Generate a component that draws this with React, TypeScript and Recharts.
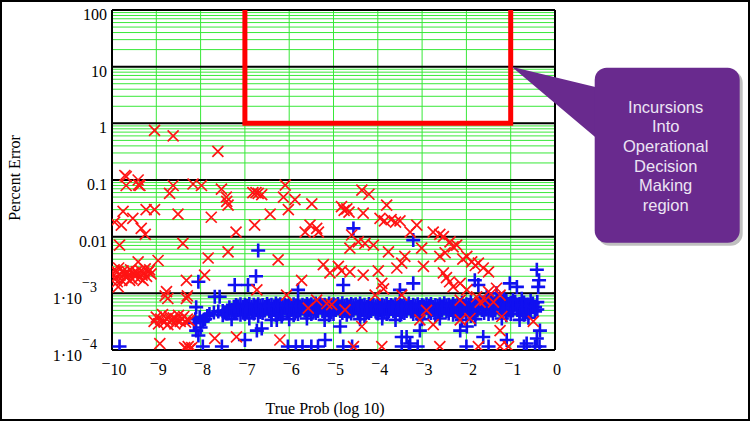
import React from 'react'
import { CartesianGrid, ReferenceDot, ReferenceLine, Scatter, ScatterChart, XAxis, YAxis } from 'recharts'

const RED = '#ff1414'
const BLUE = '#1010f0'
const GRID = '#38e838'
const PURPLE = '#692a8e'
const SERIF = '"Liberation Serif", "Times New Roman", serif'
const SANS = '"Liberation Sans", Arial, sans-serif'

// axis ticks
const X_TICKS = [-10, -9, -8, -7, -6, -5, -4, -3, -2, -1, 0]
const Y_MAJOR = [1e-4, 1e-3, 0.01, 0.1, 1, 10, 100]
const Y_LABELS = ['1·10|−4', '1·10|−3', '0.01', '0.1', '1', '10', '100']

const Y_MINOR: number[] = []
Y_MAJOR.slice(0, -1).forEach((d) => {
	for (let m = 2; m <= 9; m++) Y_MINOR.push(d * m)
})

// operational decision making region boundary
const REGION_X = [-7, -7, -1, -1]
const REGION_Y = [100, 1, 1, 100]

// red x points  [log10 true prob, percent error]
const RED_UPPER: [number, number][] = [
	[-9.04, 0.75], [-8.62, 0.6], [-7.61, 0.32],
	[-9.71, 0.12], [-9.68, 0.115], [-9.41, 0.1], [-9.68, 0.08], [-9.4, 0.082], [-9.37, 0.08],
	[-8.62, 0.08], [-8.7, 0.058], [-8.17, 0.085], [-7.98, 0.08], [-7.53, 0.069], [-7.42, 0.05],
	[-7.41, 0.042], [-7.38, 0.036], [-6.82, 0.06], [-6.75, 0.06],
	[-9.75, 0.028], [-9.94, 0.018], [-9.79, 0.016], [-9.53, 0.021], [-9.23, 0.03], [-9.04, 0.03],
	[-8.51, 0.025], [-7.76, 0.022], [-9.34, 0.014], [-9.25, 0.011], [-7.2, 0.012], [-6.78, 0.016],
	[-6.09, 0.081], [-6.7, 0.058], [-6.62, 0.055], [-6.13, 0.05], [-5.87, 0.045], [-5.49, 0.038],
	[-6.43, 0.025], [-6.02, 0.03], [-5.53, 0.016], [-5.38, 0.014],
	[-4.82, 0.034], [-4.76, 0.029], [-4.7, 0.031], [-4.65, 0.027], [-4.36, 0.066], [-4.2, 0.056],
	[-4.33, 0.026], [-3.8, 0.036], [-3.95, 0.021], [-3.85, 0.019], [-3.7, 0.02], [-3.6, 0.018],
	[-3.5, 0.019], [-3.12, 0.016], [-3.27, 0.012],
]

const RED_MID: [number, number][] = [
	[-2.75, 0.012], [-2.6, 0.011], [-2.52, 0.01], [-2.37, 0.0081], [-2.22, 0.0071], [-2.48, 0.0052],
	[-2.3, 0.0066], [-2.6, 0.0045], [-3.01, 0.0063], [-3.39, 0.0045],
	[-1.99, 0.0045], [-1.88, 0.0036], [-1.73, 0.0034], [-1.62, 0.0028], [-1.5, 0.0024], [-2.08, 0.004],
	[-1.8, 0.0031], [-2.97, 0.003], [-2.52, 0.0023], [-2.45, 0.0019], [-2.38, 0.0016], [-2.3, 0.0013],
	[-2.14, 0.0015], [-1.99, 0.00115],
	[-5.64, 0.012], [-5.34, 0.012], [-6.25, 0.0039], [-5.23, 0.0032], [-5.08, 0.0023], [-4.89, 0.003],
	[-4.82, 0.0025], [-4.63, 0.0024], [-4.33, 0.0021], [-3.99, 0.0025], [-3.57, 0.0028],
	[-5.72, 0.0017], [-6.73, 0.00115], [-3.91, 0.0015], [-3.87, 0.0012],
	[-4.59, 0.0107], [-4.63, 0.0063], [-4.44, 0.0081], [-4.29, 0.0076], [-4.1, 0.0071],
	[-3.76, 0.0054], [-3.46, 0.0034],
	[-9.83, 0.0071], [-8.4, 0.0076], [-7.38, 0.0054], [-7.83, 0.0042], [-9.41, 0.0036], [-8.96, 0.0038],
]

const RED_LOW: [number, number][] = [
	[-1.5, 0.00107], [-1.32, 0.00123], [-1.24, 0.00093], [-1.39, 0.0007], [-1.58, 0.00076],
	[-2.9, 5e-4], [-2.14, 7.6e-4], [-1.77, 8.7e-4], [-1.69, 7e-4], [-1.2, 3.9e-4], [-1.24, 2.2e-4],
	[-2.14, 3.4e-4], [-1.92, 3.6e-4], [-2.75, 2.8e-4], [-3.05, 3.4e-4], [-0.49, 3.2e-4],
	[-2.6, 1.15e-4], [-1.73, 1.15e-4], [-1.24, 1.15e-4], [-1.05, 1.15e-4],
	[-5.38, 7.6e-4], [-5.57, 5.5e-4], [-5.15, 6.6e-4], [-5.04, 6.3e-4], [-4.74, 5.1e-4],
	[-4.36, 2.6e-4], [-6.21, 1.5e-4], [-4.55, 1.15e-4], [-3.91, 1.15e-4], [-4.06, 9.3e-4],
	[-3.46, 9.3e-4], [-6.06, 9.3e-4],
	[-9.98, 0.0022], [-9.95, 0.0026], [-9.92, 0.0019], [-9.88, 0.0024], [-9.85, 0.0028], [-9.82, 0.0021],
	[-9.78, 0.0017], [-9.75, 0.0025], [-9.72, 0.0022], [-9.68, 0.0019], [-9.65, 0.0024], [-9.62, 0.0021],
	[-9.58, 0.0026], [-9.55, 0.0018], [-9.52, 0.0023], [-9.48, 0.002], [-9.45, 0.0024], [-9.42, 0.0022],
	[-9.38, 0.0019], [-9.35, 0.0025], [-9.32, 0.0021], [-9.28, 0.0023], [-9.25, 0.0027], [-9.22, 0.002],
	[-9.18, 0.0024], [-9.15, 0.0026], [-9.12, 0.0022], [-9.88, 0.0016], [-9.6, 0.0017], [-9.3, 0.0017],
	[-9.86, 0.0013], [-8.32, 0.0017], [-7.91, 0.0021],
	[-8.77, 0.00107], [-8.74, 0.00081], [-8.32, 0.00081], [-8.8, 0.0009], [-8.3, 0.0009],
	[-9.05, 3.2e-4], [-9.0, 3.8e-4], [-8.95, 2.9e-4], [-8.9, 3.5e-4], [-8.86, 4.2e-4], [-8.82, 3.1e-4],
	[-8.78, 3.6e-4], [-8.74, 2.8e-4], [-8.7, 3.9e-4], [-8.66, 3.3e-4], [-8.62, 3.7e-4], [-8.58, 2.9e-4],
	[-8.54, 3.4e-4], [-8.5, 4.1e-4], [-8.46, 3.2e-4], [-8.42, 3.6e-4], [-8.38, 3.9e-4], [-8.34, 3.1e-4],
	[-8.3, 3.5e-4], [-8.26, 3.3e-4],
	[-8.92, 1.3e-4], [-8.36, 1.1e-4], [-8.32, 1.05e-4], [-8.28, 1.15e-4], [-8.24, 1.05e-4], [-8.2, 1.1e-4],
	[-7.68, 1.6e-4], [-7.19, 1.7e-4],
]

// blue + points: dense band, upper rows
const BLUE_BAND_TOP: [number, number][] = [
	[-7.2, 6.2e-4], [-7.1, 6.4e-4], [-7.0, 6.3e-4], [-6.9, 6.5e-4], [-6.8, 6.3e-4], [-6.7, 6.4e-4],
	[-6.6, 6.2e-4], [-6.5, 6.5e-4], [-6.4, 6.3e-4], [-6.3, 6.6e-4], [-6.2, 6.4e-4], [-6.1, 6.3e-4],
	[-6.0, 6.5e-4], [-5.9, 6.4e-4], [-5.8, 6.6e-4], [-5.7, 6.3e-4], [-5.6, 6.5e-4], [-5.5, 6.4e-4],
	[-5.4, 6.6e-4], [-5.3, 6.5e-4], [-5.2, 6.3e-4], [-5.1, 6.6e-4], [-5.0, 6.4e-4], [-4.9, 6.5e-4],
	[-4.8, 6.7e-4], [-4.7, 6.3e-4], [-4.6, 6.5e-4], [-4.5, 6.4e-4], [-4.4, 6.6e-4], [-4.3, 6.3e-4],
	[-4.2, 6.5e-4], [-4.1, 6.2e-4], [-4.0, 6.4e-4], [-3.9, 6.3e-4], [-3.8, 6.5e-4], [-3.7, 6.2e-4],
	[-3.6, 6.4e-4], [-3.5, 6.2e-4], [-3.4, 6.4e-4], [-3.3, 6.6e-4], [-3.2, 6.3e-4], [-3.1, 6.4e-4],
	[-3.0, 6.2e-4], [-2.9, 6.4e-4], [-2.8, 6.5e-4], [-2.7, 6.2e-4], [-2.6, 6.4e-4], [-2.5, 6.7e-4],
	[-2.4, 6.3e-4], [-2.3, 6.5e-4], [-2.2, 6.4e-4], [-2.1, 6.8e-4], [-2.0, 6.4e-4], [-1.9, 7.0e-4],
	[-1.8, 6.5e-4], [-1.7, 7.2e-4], [-1.6, 6.7e-4], [-1.5, 7.5e-4], [-1.4, 6.9e-4], [-1.3, 7.8e-4],
	[-1.2, 7.0e-4], [-1.1, 7.4e-4], [-1.0, 6.8e-4], [-0.9, 7.1e-4], [-0.8, 6.5e-4], [-0.7, 6.9e-4],
	[-0.6, 6.3e-4], [-0.5, 6.6e-4],
	[-7.35, 5.7e-4], [-7.25, 5.8e-4], [-7.15, 5.9e-4], [-7.05, 5.8e-4], [-6.95, 6.0e-4], [-6.85, 5.8e-4],
	[-6.75, 5.9e-4], [-6.65, 6.0e-4], [-6.55, 5.8e-4], [-6.45, 6.0e-4], [-6.35, 5.9e-4], [-6.25, 6.1e-4],
	[-6.15, 5.9e-4], [-6.05, 6.0e-4], [-5.95, 5.9e-4], [-5.85, 6.1e-4], [-5.75, 5.9e-4], [-5.65, 6.0e-4],
	[-5.55, 6.1e-4], [-5.45, 5.9e-4], [-5.35, 6.0e-4], [-5.25, 6.1e-4], [-5.15, 5.9e-4], [-5.05, 6.0e-4],
	[-4.95, 6.1e-4], [-4.85, 5.9e-4], [-4.75, 6.0e-4], [-4.65, 5.9e-4], [-4.55, 6.1e-4], [-4.45, 5.9e-4],
	[-4.35, 6.0e-4], [-4.25, 5.8e-4], [-4.15, 6.0e-4], [-4.05, 5.9e-4], [-3.95, 5.8e-4], [-3.85, 6.0e-4],
	[-3.75, 5.8e-4], [-3.65, 5.9e-4], [-3.55, 5.8e-4], [-3.45, 6.0e-4], [-3.35, 5.9e-4], [-3.25, 5.8e-4],
	[-3.15, 6.0e-4], [-3.05, 5.8e-4], [-2.95, 5.9e-4], [-2.85, 6.0e-4], [-2.75, 5.8e-4], [-2.65, 6.0e-4],
	[-2.55, 5.9e-4], [-2.45, 6.1e-4], [-2.35, 5.9e-4], [-2.25, 6.0e-4], [-2.15, 6.2e-4], [-2.05, 6.0e-4],
	[-1.95, 6.3e-4], [-1.85, 6.1e-4], [-1.75, 6.5e-4], [-1.65, 6.2e-4], [-1.55, 6.6e-4], [-1.45, 6.3e-4],
	[-1.35, 6.7e-4], [-1.25, 6.4e-4], [-1.15, 6.5e-4], [-1.05, 6.2e-4], [-0.95, 6.3e-4], [-0.85, 6.0e-4],
	[-0.75, 6.2e-4], [-0.65, 5.9e-4], [-0.55, 6.0e-4], [-0.45, 5.7e-4],
	[-1.45, 7.8e-4], [-1.15, 8.2e-4], [-0.95, 7.6e-4], [-0.75, 8.0e-4], [-0.55, 7.4e-4], [-0.4, 7.0e-4],
]

// blue + points: dense band, middle row and start of the band
const BLUE_BAND_MID: [number, number][] = [
	[-8.15, 3.0e-4], [-8.1, 2.2e-4], [-8.05, 1.8e-4], [-8.0, 2.5e-4], [-7.95, 3.2e-4], [-7.9, 3.5e-4],
	[-8.12, 3.5e-4], [-8.02, 3.8e-4], [-7.85, 4.0e-4], [-7.8, 4.3e-4], [-7.7, 4.6e-4], [-7.6, 4.8e-4],
	[-7.5, 4.9e-4], [-7.4, 5.0e-4], [-7.3, 5.1e-4], [-7.2, 5.0e-4], [-7.1, 5.2e-4], [-7.0, 5.1e-4],
	[-6.9, 5.3e-4], [-6.8, 5.2e-4], [-6.7, 5.4e-4], [-6.6, 5.2e-4], [-6.5, 5.4e-4], [-6.4, 5.3e-4],
	[-6.3, 5.5e-4], [-6.2, 5.3e-4], [-6.1, 5.5e-4], [-6.0, 5.4e-4], [-5.9, 5.6e-4], [-5.8, 5.4e-4],
	[-5.7, 5.6e-4], [-5.6, 5.4e-4], [-5.5, 5.6e-4], [-5.4, 5.5e-4], [-5.3, 5.7e-4], [-5.2, 5.5e-4],
	[-5.1, 5.6e-4], [-5.0, 5.4e-4], [-4.9, 5.6e-4], [-4.8, 5.7e-4], [-4.7, 5.4e-4], [-4.6, 5.6e-4],
	[-4.5, 5.5e-4], [-4.4, 5.7e-4], [-4.3, 5.4e-4], [-4.2, 5.6e-4], [-4.1, 5.3e-4], [-4.0, 5.5e-4],
	[-3.9, 5.4e-4], [-3.8, 5.6e-4], [-3.7, 5.3e-4], [-3.6, 5.5e-4], [-3.5, 5.3e-4], [-3.4, 5.5e-4],
	[-3.3, 5.7e-4], [-3.2, 5.3e-4], [-3.1, 5.5e-4], [-3.0, 5.3e-4], [-2.9, 5.5e-4], [-2.8, 5.6e-4],
	[-2.7, 5.3e-4], [-2.6, 5.5e-4], [-2.5, 5.8e-4], [-2.4, 5.4e-4], [-2.3, 5.6e-4], [-2.2, 5.5e-4],
	[-2.1, 5.9e-4], [-2.0, 5.5e-4], [-1.9, 6.1e-4], [-1.8, 5.6e-4], [-1.7, 6.4e-4], [-1.6, 5.8e-4],
	[-1.5, 6.8e-4], [-1.4, 6.0e-4], [-1.3, 7.1e-4], [-1.2, 6.2e-4], [-1.1, 6.6e-4], [-1.0, 6.0e-4],
	[-0.9, 6.4e-4], [-0.8, 5.7e-4], [-0.7, 6.1e-4], [-0.6, 5.5e-4], [-0.5, 5.8e-4], [-0.4, 5.2e-4],
]

// blue + points: dense band, lower rows
const BLUE_BAND_LOW: [number, number][] = [
	[-7.45, 4.6e-4], [-7.25, 4.7e-4], [-7.05, 4.6e-4], [-6.85, 4.8e-4], [-6.65, 4.7e-4], [-6.45, 4.9e-4],
	[-6.25, 4.7e-4], [-6.05, 4.9e-4], [-5.85, 4.8e-4], [-5.65, 5.0e-4], [-5.45, 4.8e-4], [-5.25, 4.9e-4],
	[-5.05, 4.7e-4], [-4.85, 4.9e-4], [-4.65, 4.8e-4], [-4.45, 4.9e-4], [-4.25, 4.7e-4], [-4.05, 4.8e-4],
	[-3.85, 4.7e-4], [-3.65, 4.9e-4], [-3.45, 4.7e-4], [-3.25, 4.8e-4], [-3.05, 4.6e-4], [-2.85, 4.8e-4],
	[-2.65, 4.7e-4], [-2.45, 4.9e-4], [-2.25, 4.8e-4], [-2.05, 5.0e-4], [-1.85, 4.9e-4], [-1.65, 5.1e-4],
	[-1.45, 5.0e-4], [-1.25, 5.2e-4], [-1.05, 5.0e-4], [-0.85, 5.1e-4], [-0.65, 4.9e-4], [-0.45, 4.8e-4],
	[-7.35, 4.9e-4], [-7.15, 5.0e-4], [-6.95, 4.9e-4], [-6.75, 5.1e-4], [-6.55, 5.0e-4], [-6.35, 5.1e-4],
	[-6.15, 4.9e-4], [-5.95, 5.1e-4], [-5.75, 5.0e-4], [-5.55, 5.1e-4], [-5.35, 4.9e-4], [-5.15, 5.0e-4],
	[-4.95, 5.1e-4], [-4.75, 4.9e-4], [-4.55, 5.0e-4], [-4.35, 5.1e-4], [-4.15, 4.9e-4], [-3.95, 5.0e-4],
	[-3.75, 4.9e-4], [-3.55, 5.1e-4], [-3.35, 4.9e-4], [-3.15, 5.0e-4], [-2.95, 4.9e-4], [-2.75, 5.1e-4],
	[-2.55, 5.0e-4], [-2.35, 5.1e-4], [-2.15, 4.9e-4], [-1.95, 5.1e-4], [-1.75, 5.0e-4], [-1.55, 5.2e-4],
	[-1.35, 5.1e-4], [-1.15, 5.2e-4], [-0.95, 5.0e-4], [-0.75, 5.1e-4], [-0.55, 4.9e-4],
	[-7.4, 4.4e-4], [-7.2, 4.5e-4], [-7.0, 4.3e-4], [-6.8, 4.4e-4], [-6.6, 4.5e-4], [-6.4, 4.3e-4],
	[-6.2, 4.4e-4], [-6.0, 4.5e-4], [-5.8, 4.3e-4], [-5.6, 4.4e-4], [-5.4, 4.5e-4], [-5.2, 4.4e-4],
	[-5.0, 4.3e-4], [-4.8, 4.5e-4], [-4.6, 4.4e-4], [-4.4, 4.3e-4], [-4.2, 4.5e-4], [-4.0, 4.4e-4],
	[-3.8, 4.3e-4], [-3.6, 4.4e-4], [-3.4, 4.5e-4], [-3.2, 4.3e-4], [-3.0, 4.4e-4], [-2.8, 4.5e-4],
	[-2.6, 4.3e-4], [-2.4, 4.4e-4], [-2.2, 4.5e-4], [-2.0, 4.4e-4], [-1.8, 4.3e-4], [-1.6, 4.5e-4],
	[-1.4, 4.4e-4], [-1.2, 4.5e-4], [-1.0, 4.3e-4], [-0.8, 4.4e-4], [-0.6, 4.5e-4],
	[-7.5, 4.1e-4], [-7.1, 4.2e-4], [-6.7, 4.0e-4], [-6.3, 4.2e-4], [-5.9, 4.1e-4], [-5.5, 4.3e-4],
	[-5.1, 4.1e-4], [-4.7, 4.2e-4], [-4.3, 4.0e-4], [-3.9, 4.2e-4], [-3.5, 4.1e-4], [-3.1, 4.3e-4],
	[-2.7, 4.1e-4], [-2.3, 4.2e-4], [-1.9, 4.0e-4], [-1.5, 4.3e-4], [-1.1, 4.1e-4], [-0.7, 4.2e-4],
	[-7.3, 3.5e-4], [-6.9, 3.6e-4], [-6.4, 3.4e-4], [-6.0, 3.5e-4], [-5.6, 3.6e-4], [-5.2, 3.4e-4],
	[-4.4, 3.5e-4], [-3.9, 3.6e-4], [-3.6, 3.4e-4], [-3.0, 3.5e-4], [-2.6, 3.6e-4], [-2.1, 3.4e-4],
	[-1.8, 3.5e-4], [-1.2, 3.6e-4], [-0.8, 3.4e-4], [-0.6, 3.7e-4],
]

const BLUE_SCATTER: [number, number][] = [
	[-9.83, 1.15e-4], [-8.05, 0.0016], [-7.68, 8.7e-4], [-7.57, 8.7e-4], [-8.1, 5.7e-4],
	[-7.23, 0.0014], [-6.93, 0.0014], [-6.75, 0.002], [-6.7, 0.0057], [-5.8, 0.00115], [-4.78, 0.0014],
	[-6.62, 2.4e-4], [-6.73, 2.2e-4], [-4.85, 2.6e-4], [-5.19, 1.5e-4], [-7.0, 1.5e-4],
	[-6.28, 3.4e-4], [-6.17, 3.9e-4],
	[-7.95, 1.15e-4], [-7.52, 1.15e-4],
	[-6.03, 1.15e-4], [-5.85, 1.15e-4], [-5.7, 1.15e-4], [-5.5, 1.15e-4], [-5.35, 1.15e-4],
	[-4.78, 1.15e-4], [-4.58, 1.15e-4], [-3.46, 1.7e-4], [-3.46, 1.15e-4], [-4.55, 0.014],
	[-3.2, 0.0087], [-3.2, 0.0015], [-3.5, 0.00115], [-1.81, 0.0017], [-1.73, 0.0014],
	[-0.41, 0.0026], [-0.36, 0.0017], [-0.38, 0.0013], [-1.02, 0.0015], [-0.86, 0.0013],
	[-1.54, 8.7e-4], [-1.32, 1e-3],
	[-3.05, 2.2e-4], [-3.35, 1.7e-4], [-3.27, 1.3e-4], [-2.14, 2.2e-4], [-1.99, 2.6e-4],
	[-1.62, 1.7e-4], [-1.09, 1.5e-4], [-0.64, 1.3e-4], [-0.41, 1.6e-4], [-0.34, 2.2e-4],
	[-3.3, 1.15e-4], [-3.1, 1.15e-4], [-2.0, 1.15e-4], [-1.5, 1.15e-4], [-0.7, 1.15e-4],
	[-0.45, 1.15e-4], [-0.35, 1.15e-4],
]

const CALLOUT_LINES = ['Incursions', 'Into', 'Operational', 'Decision', 'Making', 'region']

const toPts = (arr: [number, number][]) => arr.map(([x, y]) => ({ x, y }))

const XMark = (p: any) => (
	<path
		d={`M${p.cx - 5.5},${p.cy - 5.5}L${p.cx + 5.5},${p.cy + 5.5}M${p.cx + 5.5},${p.cy - 5.5}L${p.cx - 5.5},${p.cy + 5.5}`}
		stroke={RED}
		strokeWidth={1.7}
		fill="none"
	/>
)

const PlusMark = (p: any) => (
	<path
		d={`M${p.cx - 7},${p.cy}H${p.cx + 7}M${p.cx},${p.cy - 7}V${p.cy + 7}`}
		stroke={BLUE}
		strokeWidth={2.6}
		fill="none"
	/>
)

const YTick = ({ x, y, payload }: any) => {
	const i = Y_MAJOR.findIndex((v) => Math.abs(Math.log10(v) - Math.log10(payload.value)) < 1e-6)
	if (i < 0) return <g />
	const [base, exp] = Y_LABELS[i].split('|')
	if (!exp)
		return (
			<text x={x} y={y + 10} textAnchor="end" fontFamily={SERIF} fontSize={16} fill="#000">
				{base}
			</text>
		)
	return (
		<g fontFamily={SERIF} fill="#000">
			<text x={x - 25} y={y + 11} textAnchor="end" fontSize={16}>
				{base}
			</text>
			<text x={x - 25} y={y - 1} fontSize={14}>
				<tspan dy={-5}>{exp[0]}</tspan>
				<tspan dy={5}>{exp.slice(1)}</tspan>
			</text>
		</g>
	)
}

const XTick = ({ x, y, payload }: any) => {
	const v = payload.value
	return (
		<text x={x + 2} y={y + 15} textAnchor="middle" fontFamily={SERIF} fontSize={16} fill="#000">
			{v < 0 && <tspan dy={-6}>−</tspan>}
			<tspan dy={v < 0 ? 6 : 0}>{Math.abs(v)}</tspan>
		</text>
	)
}

const Callout = (p: any) => {
	const { cx, cy } = p
	const bx = cx + 84
	const by = cy + 1
	return (
		<g>
			<rect x={bx + 3} y={by + 3} width={145} height={175} rx={12} fill="rgba(0,0,0,0.25)" />
			<path d={`M${cx + 1},${cy} L${bx + 12},${cy + 23} L${bx + 12},${cy + 80} Z`} fill={PURPLE} />
			<rect x={bx} y={by} width={145} height={175} rx={12} fill={PURPLE} />
			{CALLOUT_LINES.map((t, i) => (
				<text
					key={t}
					x={bx + 71}
					y={cy + 46 + i * 19.7}
					textAnchor="middle"
					fontFamily={SANS}
					fontSize={16.5}
					fill="#ece4f4"
				>
					{t}
				</text>
			))}
		</g>
	)
}

const App = () => {
	const region = REGION_X.map((x, i) => ({ x, y: REGION_Y[i] }))
	return (
		<div style={{ position: 'absolute', left: 0, top: 0, width: 750, height: 421, background: '#fff' }}>
			<ScatterChart width={750} height={421} margin={{ top: 10, right: 195, bottom: 41, left: 0 }}>
				<CartesianGrid stroke={GRID} strokeWidth={1} />
				<XAxis
					type="number"
					dataKey="x"
					domain={[-10, 0]}
					ticks={X_TICKS}
					interval={0}
					height={30}
					tickSize={0}
					tickMargin={10}
					axisLine={false}
					tick={<XTick />}
					allowDataOverflow
					label={{
						content: () => (
							<text x={325} y={414} textAnchor="middle" fontFamily={SERIF} fontSize={16} fill="#000">
								True Prob (log 10)
							</text>
						),
					}}
				/>
				<YAxis
					type="number"
					dataKey="y"
					scale="log"
					domain={[1e-4, 100]}
					ticks={[...Y_MAJOR, ...Y_MINOR]}
					interval={0}
					width={112}
					tickSize={0}
					tickMargin={5}
					axisLine={false}
					tick={<YTick />}
					allowDataOverflow
					label={{
						content: () => (
							<text
								x={14}
								y={178}
								transform="rotate(-90, 14, 178)"
								textAnchor="middle"
								dominantBaseline="central"
								fontFamily={SERIF}
								fontSize={16}
								fill="#000"
							>
								Percent Error
							</text>
						),
					}}
				/>
				{Y_MAJOR.map((v) => (
					<ReferenceLine key={`h${v}`} y={v} stroke="#000" strokeWidth={2} />
				))}
				<ReferenceLine x={-10} stroke="#000" strokeWidth={2} />
				<ReferenceLine x={0} stroke="#000" strokeWidth={2} />
				<Scatter data={toPts(BLUE_BAND_LOW)} shape={PlusMark} isAnimationActive={false} />
				<Scatter data={toPts(BLUE_BAND_MID)} shape={PlusMark} isAnimationActive={false} />
				<Scatter data={toPts(BLUE_BAND_TOP)} shape={PlusMark} isAnimationActive={false} />
				<Scatter data={toPts(BLUE_SCATTER)} shape={PlusMark} isAnimationActive={false} />
				<Scatter data={toPts(RED_LOW)} shape={XMark} isAnimationActive={false} />
				<Scatter data={toPts(RED_MID)} shape={XMark} isAnimationActive={false} />
				<Scatter data={toPts(RED_UPPER)} shape={XMark} isAnimationActive={false} />
				<Scatter
					data={region}
					line={{ stroke: '#ff0000', strokeWidth: 5, strokeLinejoin: 'miter' }}
					shape={() => <g />}
					isAnimationActive={false}
				/>
				<ReferenceDot x={-1} y={10} r={0} shape={Callout} ifOverflow="visible" />
			</ScatterChart>
			<div
				style={{
					position: 'absolute',
					left: 0,
					top: 0,
					width: 750,
					height: 421,
					boxSizing: 'border-box',
					border: '2px solid #000',
					pointerEvents: 'none',
				}}
			/>
		</div>
	)
}

export default App
